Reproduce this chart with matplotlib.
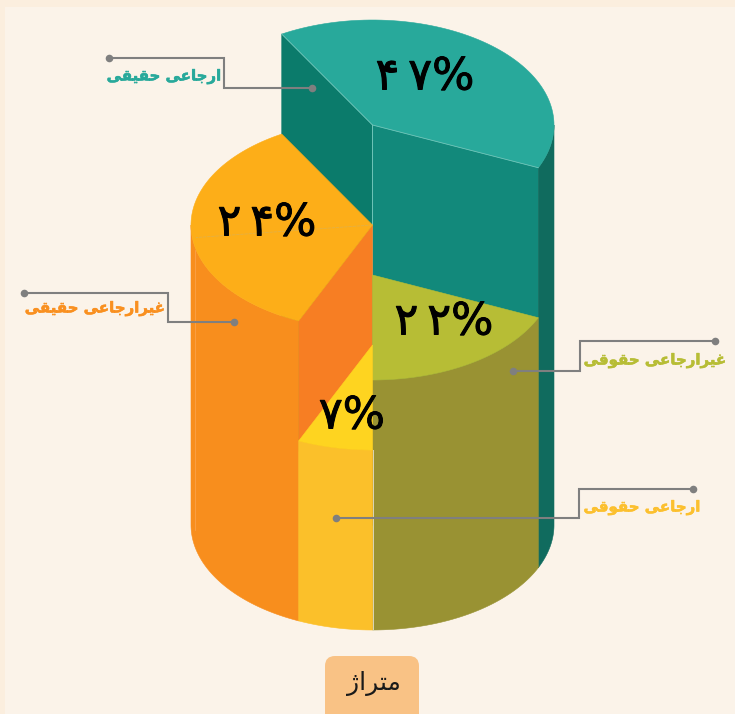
import numpy as np
import matplotlib
matplotlib.use("Agg")
import matplotlib.pyplot as plt
import matplotlib.patheffects as pe
from matplotlib.patches import Polygon, FancyBboxPatch, Rectangle

categories = ["ارجاعی حقیقی", "غیرارجاعی حقوقی", "ارجاعی حقوقی", "غیرارجاعی حقیقی"]
percent_values = [47, 22, 7, 24]
# sweep of each slice as actually drawn in the picture (percent of the circle)
drawn_shares = [40.0, 18.33, 6.67, 35.0]
# height of each slice's top above the base
slice_heights = [400, 250, 180, 300]
title_text = "متراژ"

top_colors = ["#28a99b", "#b7bd35", "#fed420", "#fdae18"]
wall_colors = ["#106b5e", "#999233", "#fbc02a", "#f88e1d"]
face_colors = ["#12897b", None, None, "#f77e23"]
back_color = "#0b7b6b"
label_colors = ["#28a99b", "#b7bd35", "#fcc02e", "#f99020"]

FORMS = {
    "ا": ("\uFE8D", "\uFE8E", None, None), "ر": ("\uFEAD", "\uFEAE", None, None),
    "و": ("\uFEED", "\uFEEE", None, None), "ژ": ("\uFB8A", "\uFB8B", None, None),
    "ج": ("\uFE9D", "\uFE9E", "\uFE9F", "\uFEA0"), "ع": ("\uFEC9", "\uFECA", "\uFECB", "\uFECC"),
    "ی": ("\uFBFC", "\uFBFD", "\uFBFE", "\uFBFF"), "ح": ("\uFEA1", "\uFEA2", "\uFEA3", "\uFEA4"),
    "ق": ("\uFED5", "\uFED6", "\uFED7", "\uFED8"), "غ": ("\uFECD", "\uFECE", "\uFECF", "\uFED0"),
    "م": ("\uFEE1", "\uFEE2", "\uFEE3", "\uFEE4"), "ت": ("\uFE95", "\uFE96", "\uFE97", "\uFE98"),
}


def shape(text):
    """Join Persian letters and put them in visual order, as matplotlib does no shaping."""
    out = []
    for i, ch in enumerate(text):
        if ch not in FORMS:
            out.append(ch)
            continue
        prev = text[i - 1] if i else " "
        nxt = text[i + 1] if i + 1 < len(text) else " "
        joins_prev = prev in FORMS and FORMS[prev][2] is not None
        joins_next = nxt in FORMS and FORMS[ch][2] is not None
        if joins_prev and joins_next:
            out.append(FORMS[ch][3])
        elif joins_prev:
            out.append(FORMS[ch][1])
        elif joins_next:
            out.append(FORMS[ch][2])
        else:
            out.append(FORMS[ch][0])
    return "".join(reversed(out))


def persian_number(v):
    return "\u2009".join("۰۱۲۳۴۵۶۷۸۹"[int(d)] for d in str(v))


W, H = 735, 714
fig = plt.figure(figsize=(W / 100, H / 100), dpi=100, facecolor="#fbeede")
ax = fig.add_axes([0, 0, 1, 1])
ax.set_xlim(0, W)
ax.set_ylim(H, 0)
ax.axis("off")
ax.add_patch(Rectangle((5, 7), W, H, fc="#fbf3e9", ec="none", zorder=0))

CX, BASE_Y, RX, RY = 372.5, 525, 181.5, 105
START = -30.0


def pt(theta_deg, height, r=1.0):
    t = np.radians(theta_deg)
    return CX + RX * r * np.sin(t), BASE_Y - height - RY * r * np.cos(t)


def arc(a0, a1, height, n=80):
    x, y = pt(np.linspace(a0, a1, n), height)
    return np.column_stack([x, y])


def poly(points, color, z):
    ax.add_patch(Polygon(points, closed=True, fc=color, ec=color, lw=0.4, zorder=z))


edges = START + np.concatenate([[0], np.cumsum(drawn_shares)]) * 3.6
spans = [(edges[i], edges[i + 1]) for i in range(len(drawn_shares))]
order = [0, 3, 1, 2]  # back to front

z = 2
for i in order:
    a0, a1 = spans[i]
    h = slice_heights[i]
    # radial faces
    if i == 0:
        poly([pt(0, h, 0), pt(a0, h), pt(a0, 0), pt(0, 0, 0)], back_color, z)
        poly([pt(0, h, 0), pt(a1, h), pt(a1, 0), pt(0, 0, 0)], face_colors[0], z)
    if i == 3:
        poly([pt(0, h, 0), pt(a0, h), pt(a0, 0), pt(0, 0, 0)], face_colors[3], z)
    # outer wall, front half of the circle only
    w0, w1 = max(a0, 90), min(a1, 270)
    if w1 > w0:
        poly(np.vstack([arc(w0, w1, h), arc(w1, w0, 0)]), wall_colors[i], z + 1)
    # top
    poly(np.vstack([[pt(0, h, 0)], arc(a0, a1, h)]), top_colors[i], z + 2)
    if i == 0:
        light = "#6fc4b8"
        ax.plot(*zip(pt(0, h, 0), pt(a0, h)), color=light, lw=0.6, zorder=z + 3)
        ax.plot(*zip(pt(0, h, 0), pt(a1, h)), color=light, lw=0.6, zorder=z + 3)
        ax.plot(*zip(pt(0, h, 0), pt(0, slice_heights[1], 0)), color=light, lw=0.7, zorder=z + 3)
    if i == 3:
        ax.plot(*zip(pt(0, h, 0), pt(263, h, 0.98)), color="#e3b045", lw=0.6, ls=(0, (4, 1)), zorder=z + 3)
    z += 4

# seams on the walls
ax.plot([372.6, 372.6], [450, 630], color="#d9d6b8", lw=0.7, zorder=z)
ax.plot([195, 195], [250, 530], color="#fba552", lw=0.5, zorder=z)

# leader lines: label end, elbow column, elbow row, dot on the slice
LINE = "#7f7f7f"
leaders = [
    [(109, 58), (224, 58), (224, 88), (312, 88)],
    [(715, 341), (580.5, 341), (580.5, 371), (513, 371)],
    [(693, 489), (579, 489), (579, 518), (336, 518)],
    [(24, 293), (168, 293), (168, 322), (234, 322)],
]
for pts in leaders:
    xs, ys = zip(*pts)
    ax.plot(xs, ys, color=LINE, lw=1.5, zorder=z + 1, solid_joinstyle="miter")
    ax.scatter([xs[0], xs[-1]], [ys[0], ys[-1]], s=30, color=LINE, zorder=z + 2, linewidths=0)

label_pos = [(164, 77), (655, 361), (642, 508), (95, 309)]
for name, col, (x, y) in zip(categories, label_colors, label_pos):
    t = ax.text(x, y, shape(name), color=col, fontsize=10.8, fontweight="bold",
                family=["DejaVu Sans"], ha="center", va="center", zorder=z + 3)
    t.set_path_effects([pe.withStroke(linewidth=0.4, foreground=col)])

pct_pos = [(425, 77), (444, 322), (352, 416), (267, 223)]
for v, (x, y) in zip(percent_values, pct_pos):
    t = ax.text(x, y, persian_number(v) + "%", color="black", fontsize=32,
                family=["DejaVu Sans"], ha="center", va="center", zorder=z + 3)
    t.set_path_effects([pe.withStroke(linewidth=0.7, foreground="black")])

box = FancyBboxPatch((325, 656), 94, 70, boxstyle="round,pad=0,rounding_size=10",
                     fc="#f9c285", ec="none", zorder=z)
ax.add_patch(box)
ax.text(374, 683, shape(title_text), color="#1a1a1a", fontsize=18,
        family=["DejaVu Sans"], ha="center", va="center", zorder=z + 3)

fig.savefig("out.png", dpi=100, facecolor=fig.get_facecolor())
